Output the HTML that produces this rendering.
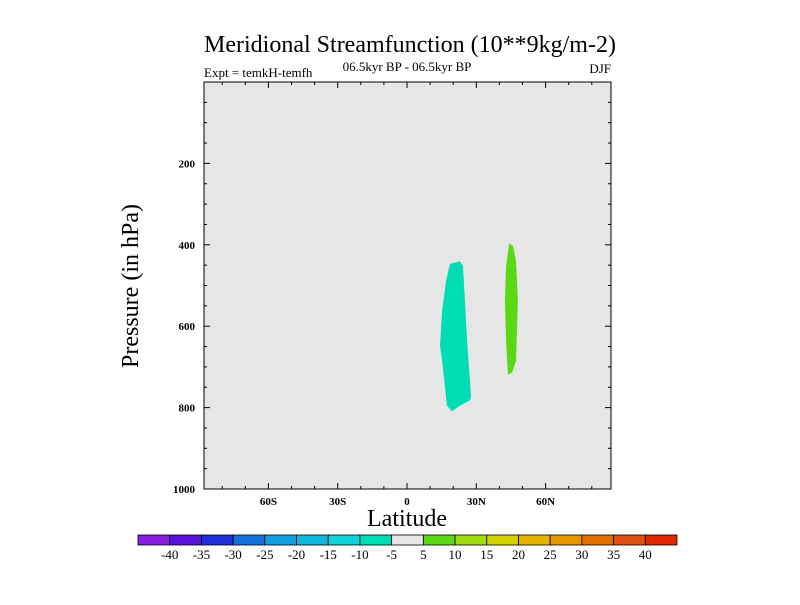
<!DOCTYPE html>
<html><head><meta charset="utf-8"><style>
body{margin:0;background:#fff;}
svg text{font-family:"Liberation Serif",serif;fill:#000;}
</style></head><body>
<svg id="chart" width="800" height="600" xmlns="http://www.w3.org/2000/svg">
<text x="410" y="52" font-size="24" text-anchor="middle">Meridional Streamfunction (10**9kg/m-2)</text>
<text x="204" y="77" font-size="13">Expt = temkH-temfh</text>
<text x="407" y="71" font-size="13" text-anchor="middle">06.5kyr BP - 06.5kyr BP</text>
<text x="611" y="73" font-size="13" text-anchor="end">DJF</text>
<rect x="204" y="82" width="407" height="407" fill="#e6e6e6"/>
<g id="shapes"></g>
<rect x="204" y="82" width="407" height="407" fill="none" stroke="#000" stroke-width="1"/>
<g id="axes"></g>
<text x="407" y="526" font-size="24" text-anchor="middle">Latitude</text>
<text transform="translate(138,286) rotate(-90)" font-size="24" text-anchor="middle">Pressure (in hPa)</text>
<g id="colorbar"></g>
</svg>
<script>
const latTicks=[-60,-30,0,30,60];
const latLabels=["60S","30S","0","30N","60N"];
const presTicks=[200,400,600,800,1000];
const negRegion=[[18.6,447],[22.9,440],[24.2,452],[25.1,538],[26,636],[27.7,770],[27.3,782],[22.9,795],[19.5,809],[17.3,795],[15.2,685],[14.3,648],[15.2,562],[16.9,489]];
const posRegion=[[44.2,396],[45.9,403],[47.2,440],[48,538],[47.2,685],[45.5,714],[43.7,719],[42.9,636],[42.4,538],[42.9,452]];
const cbLabels=["-40","-35","-30","-25","-20","-15","-10","-5","5","10","15","20","25","30","35","40"];
const cbColors=["#8a1ee0","#5a12d8","#2030d8","#1470d8","#12a0dc","#12b8dc","#10d0d8","#00dcb4","#e6e6e6","#5ad814","#a0dc10","#d2d000","#e6b400","#e69600","#e07000","#e05010","#e02800"];
const NS="http://www.w3.org/2000/svg";
const X0=204,X1=611,Y0=82,Y1=489;
function xs(l){return 407+l*2.31;}
function ys(p){return Y0+(p/1000)*(Y1-Y0);}
function mk(t,a,parent){const e=document.createElementNS(NS,t);for(const k in a)e.setAttribute(k,a[k]);parent.appendChild(e);return e;}
const sh=document.getElementById('shapes');
let p1=mk('polygon',{points:negRegion.map(d=>xs(d[0])+','+ys(d[1])).join(' '),fill:'#00dcb4'},sh);


let p2=mk('polygon',{points:posRegion.map(d=>xs(d[0])+','+ys(d[1])).join(' '),fill:'#5ad814'},sh);


const ax=document.getElementById('axes');
for(let l=-80;l<=80;l+=10){const x=xs(l);const major=l%30===0;const len=major?6:3;
mk('line',{x1:x,x2:x,y1:Y1,y2:Y1-len,stroke:'#000'},ax);mk('line',{x1:x,x2:x,y1:Y0,y2:Y0+len,stroke:'#000'},ax);}
latTicks.forEach((l,i)=>{const t=mk('text',{x:xs(l),y:Y1+16,'font-size':11,'font-weight':'bold','text-anchor':'middle'},ax);t.textContent=latLabels[i];

});
for(let p=50;p<1000;p+=50){const y=ys(p);const major=p%200===0;const len=major?6:3;
mk('line',{x1:X0,x2:X0+len,y1:y,y2:y,stroke:'#000'},ax);mk('line',{x1:X1,x2:X1-len,y1:y,y2:y,stroke:'#000'},ax);}
presTicks.forEach(p=>{const t=mk('text',{x:X0-9,y:ys(p)+4,'font-size':11,'font-weight':'bold','text-anchor':'end'},ax);t.textContent=p;

});
const cb=document.getElementById('colorbar');
const cx0=138,cw=(677-138)/cbColors.length;
cbColors.forEach((c,i)=>{const r=mk('rect',{x:cx0+i*cw,y:535,width:cw,height:10,fill:c,stroke:'#000','stroke-width':0.8},cb);

});
cbLabels.forEach((s,i)=>{const t=mk('text',{x:cx0+(i+1)*cw,y:559,'font-size':13,'text-anchor':'middle'},cb);t.textContent=s;

});
</script>
</body></html>
